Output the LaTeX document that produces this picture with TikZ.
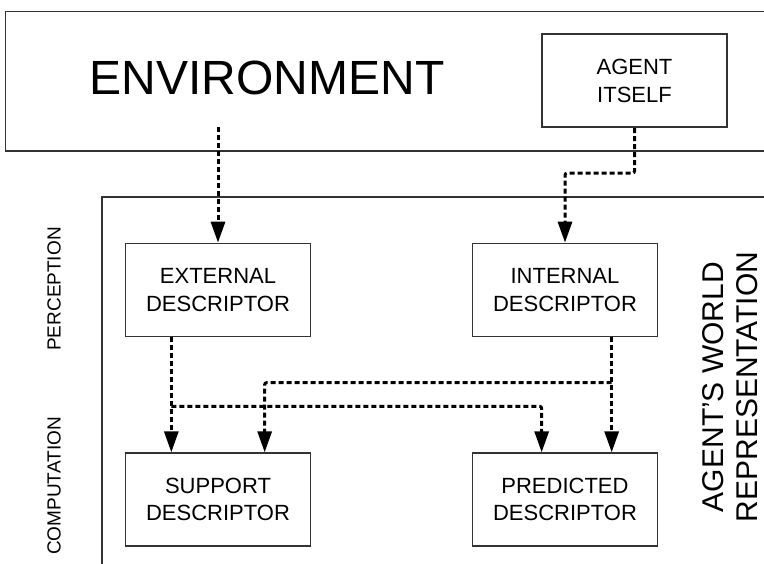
\documentclass[tikz,border=0pt]{standalone}
\usepackage{fontspec}
\setmainfont{Liberation Sans}
\usetikzlibrary{arrows.meta}
\usetikzlibrary{positioning}
\usetikzlibrary{calc}

\tikzset{
  frame/.style={draw=black!80, line width=1.7pt},
  descbox/.style={draw=black!80, line width=1.7pt, minimum width=185pt, minimum height=93pt,
    inner sep=0pt, align=center, font=\fontsize{22}{27.3}\selectfont},
  flow/.style={line width=3pt, dash pattern=on 5pt off 3pt, rounded corners=2pt,
    -{Triangle[length=21pt,width=14pt]}},
  stage/.style={rotate=90, font=\fontsize{19}{23}\selectfont},
}

\begin{document}
\begin{tikzpicture}[x=1pt,y=-1pt]
  \clip (0,0) rectangle (764,564);
  % outer frames
  \draw[frame] (5.5,11.5) rectangle (790,151);
  \draw[frame] (101.7,197) rectangle (790,590);

  \node[font=\fontsize{48}{58}\selectfont] (env) at (267,78) {ENVIRONMENT};
  \node[descbox] (agent) at (634.5,80.8) {AGENT\\ITSELF};

  \node[descbox] (ext) at (218,290) {EXTERNAL\\DESCRIPTOR};
  \node[descbox] (int) at (565,290) {INTERNAL\\DESCRIPTOR};
  \node[descbox, below=115pt of ext] (sup) {SUPPORT\\DESCRIPTOR};
  \node[descbox, below=115pt of int] (pred) {PREDICTED\\DESCRIPTOR};

  \node[stage] (perc) at (54,289) {PERCEPTION};
  \node[stage] (comp) at (54,486) {COMPUTATION};
  \node[rotate=90, align=center, inner sep=0pt, font=\fontsize{30}{34}\selectfont] (world) at (730.5,387)
    {AGENT'S WORLD\\REPRESENTATION};

  % perception
  \coordinate (envout) at (218,127);
  \draw[flow] (envout) -- (ext.north);
  \draw[flow] (agent.south) -- ++(0,45) -| (int.north);

  % computation
  \coordinate (e1) at ($(ext.south west)!0.25!(ext.south east)$);
  \coordinate (i1) at ($(int.south west)!0.75!(int.south east)$);
  \path (e1) ++(0,69) coordinate (e2);
  \path (i1) ++(0,45.3) coordinate (i2);
  \draw[flow] (e1) -- (e1 |- sup.north);
  \draw[flow] (i1) -- (i1 |- pred.north);
  \draw[flow] (e2) -| ($(pred.north west)!0.375!(pred.north east)$);
  \draw[flow] (i2) -| ($(sup.north west)!0.75!(sup.north east)$);
\end{tikzpicture}
\end{document}
